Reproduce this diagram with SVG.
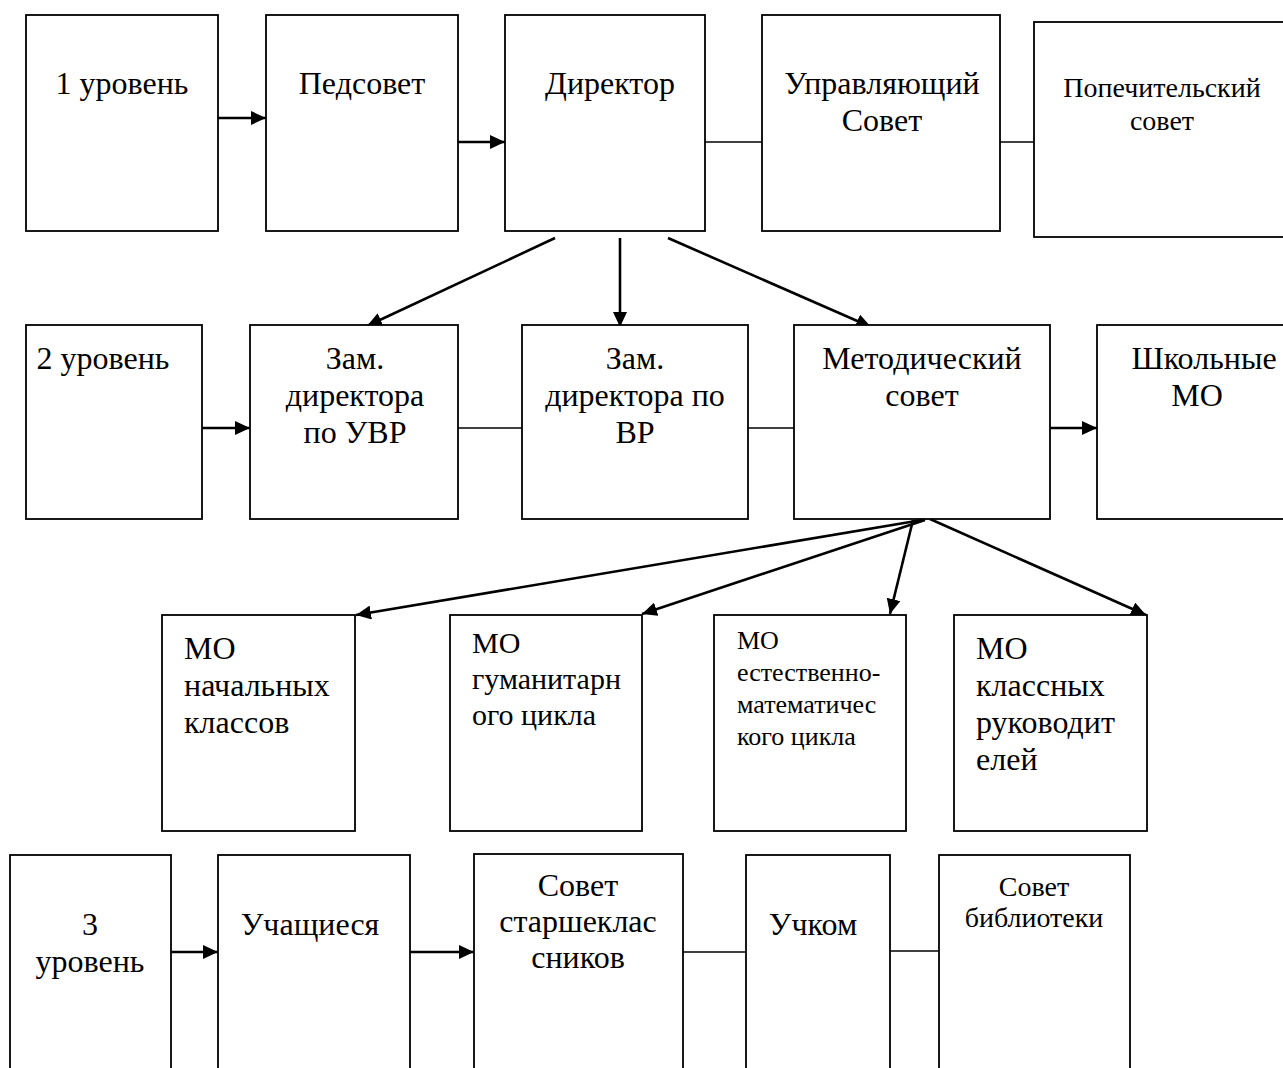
<svg xmlns="http://www.w3.org/2000/svg" width="1283" height="1068" viewBox="0 0 1283 1068">
<defs>
<marker id="ah" markerUnits="userSpaceOnUse" markerWidth="16" markerHeight="14" refX="15" refY="7" orient="auto">
<path d="M0,0 L15,7 L0,14 z" fill="#000"/>
</marker>
<style>
rect{fill:#fff;stroke:#000;stroke-width:1.8}
text{font-family:"Liberation Serif","Times New Roman",serif;font-size:32px;fill:#000}
.c{text-anchor:middle}
.s28{font-size:28px}
.s30{font-size:30px}
.s26{font-size:26px}
.arr{stroke:#000;stroke-width:2.6;fill:none;marker-end:url(#ah)}
.ln{stroke:#000;stroke-width:1.6;fill:none}
</style>
</defs>
<rect x="0" y="0" width="1283" height="1068" style="fill:#fff;stroke:none"/>
<g id="connectors">
<line class="arr" x1="218" y1="118" x2="266" y2="118"/>
<line class="arr" x1="458" y1="142" x2="505" y2="142"/>
<line class="ln" x1="705" y1="142" x2="762" y2="142"/>
<line class="ln" x1="1000" y1="142" x2="1034" y2="142"/>
<line class="arr" x1="555" y1="238" x2="367" y2="326"/>
<line class="arr" x1="620" y1="238" x2="620" y2="327"/>
<line class="arr" x1="668" y1="238" x2="871" y2="327"/>
<line class="arr" x1="202" y1="428" x2="250" y2="428"/>
<line class="ln" x1="458" y1="428" x2="522" y2="428"/>
<line class="ln" x1="748" y1="428" x2="794" y2="428"/>
<line class="arr" x1="1050" y1="428" x2="1097" y2="428"/>
<line class="arr" x1="922" y1="520" x2="356" y2="615"/>
<line class="arr" x1="925" y1="520" x2="642" y2="614"/>
<line class="arr" x1="913" y1="520" x2="890" y2="614"/>
<line class="arr" x1="930" y1="519" x2="1146" y2="615"/>
<line class="arr" x1="171" y1="952" x2="218" y2="952"/>
<line class="arr" x1="410" y1="952" x2="474" y2="952"/>
<line class="ln" x1="683" y1="952" x2="746" y2="952"/>
<line class="ln" x1="890" y1="951" x2="939" y2="951"/>
</g>
<g id="n-level1"><rect x="26" y="15" width="192" height="216"/><text class="c" x="122" y="94">1 уровень</text></g>
<g id="n-pedsovet"><rect x="266" y="15" width="192" height="216"/><text class="c" x="362" y="94">Педсовет</text></g>
<g id="n-director"><rect x="505" y="15" width="200" height="216"/><text class="c" x="610" y="94">Директор</text></g>
<g id="n-upr"><rect x="762" y="15" width="238" height="216"/><text class="c" x="882" y="94">Управляющий</text><text class="c" x="882" y="131">Совет</text></g>
<g id="n-popech"><rect x="1034" y="22" width="250" height="215"/><text class="c s28" x="1162" y="97">Попечительский</text><text class="c s28" x="1162" y="130">совет</text></g>
<g id="n-level2"><rect x="26" y="325" width="176" height="194"/><text class="c" x="103" y="369">2 уровень</text></g>
<g id="n-zam-uvr"><rect x="250" y="325" width="208" height="194"/><text class="c" x="355" y="369">Зам.</text><text class="c" x="355" y="406">директора</text><text class="c" x="355" y="443">по УВР</text></g>
<g id="n-zam-vr"><rect x="522" y="325" width="226" height="194"/><text class="c" x="635" y="369">Зам.</text><text class="c" x="635" y="406">директора по</text><text class="c" x="635" y="443">ВР</text></g>
<g id="n-metsovet"><rect x="794" y="325" width="256" height="194"/><text class="c" x="922" y="369">Методический</text><text class="c" x="922" y="406">совет</text></g>
<g id="n-shkmo"><rect x="1097" y="325" width="190" height="194"/><text class="c" x="1204" y="369">Школьные</text><text class="c" x="1197" y="406">МО</text></g>
<g id="n-mo-nach"><rect x="162" y="615" width="193" height="216"/><text x="184" y="659">МО</text><text x="184" y="696">начальных</text><text x="184" y="733">классов</text></g>
<g id="n-mo-gum"><rect x="450" y="615" width="192" height="216"/><text class="s30" x="472" y="653">МО</text><text class="s30" x="472" y="689">гуманитарн</text><text class="s30" x="472" y="725">ого цикла</text></g>
<g id="n-mo-est"><rect x="714" y="615" width="192" height="216"/><text class="s26" x="737" y="649">МО</text><text class="s26" x="737" y="681">естественно-</text><text class="s26" x="737" y="713">математичес</text><text class="s26" x="737" y="745">кого цикла</text></g>
<g id="n-mo-kl"><rect x="954" y="615" width="193" height="216"/><text x="976" y="659">МО</text><text x="976" y="696">классных</text><text x="976" y="733">руководит</text><text x="976" y="770">елей</text></g>
<g id="n-level3"><rect x="10" y="855" width="161" height="230"/><text class="c" x="90" y="935">3</text><text class="c" x="90" y="972">уровень</text></g>
<g id="n-uch"><rect x="218" y="855" width="192" height="230"/><text class="c" x="310" y="935">Учащиеся</text></g>
<g id="n-starsh"><rect x="474" y="854" width="209" height="230"/><text class="c" x="578" y="896">Совет</text><text class="c" x="578" y="932">старшеклас</text><text class="c" x="578" y="968">сников</text></g>
<g id="n-uchkom"><rect x="746" y="855" width="144" height="230"/><text class="c" x="813" y="935">Учком</text></g>
<g id="n-bibl"><rect x="939" y="855" width="191" height="230"/><text class="c s28" x="1034" y="896">Совет</text><text class="c s28" x="1034" y="927">библиотеки</text></g>
</svg>
